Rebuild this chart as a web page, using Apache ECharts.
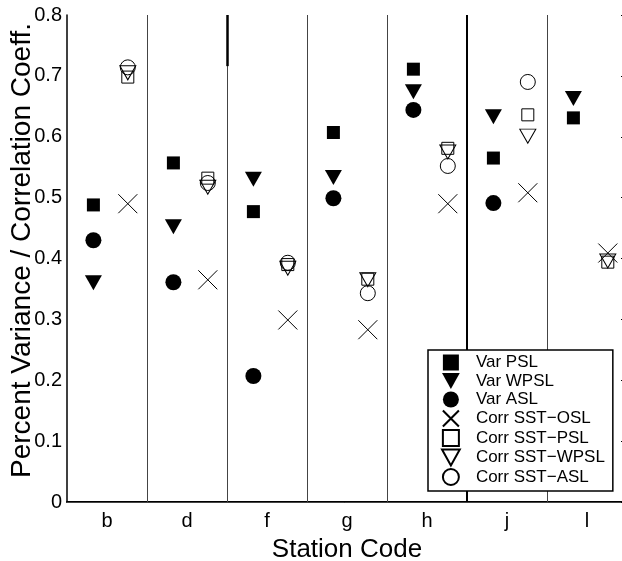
<html>
<head>
<meta charset="utf-8">
<title>Station Code</title>
<script src="https://cdn.jsdelivr.net/npm/echarts@6/dist/echarts.min.js"></script>
<style>
body { margin: 0; background: #fff; }
</style>
</head>
<body>
	<div id="main" style="width: 622px; height: 561px;"></div>
	<script type="text/javascript">
		// stations and the values read per station
		var categories = ['b', 'd', 'f', 'g', 'h', 'j', 'l'];
		var yTicks = [0, 0.1, 0.2, 0.3, 0.4, 0.5, 0.6, 0.7, 0.8];

		var varPSL   = [0.488, 0.557, 0.477, 0.607, 0.711, 0.565, 0.631];
		var varWPSL  = [0.360, 0.452, 0.530, 0.533, 0.674, 0.633, 0.663];
		var varASL   = [0.430, 0.361, 0.207, 0.499, 0.644, 0.491, null];
		var corrOSL  = [0.490, 0.365, 0.299, 0.283, 0.490, 0.508, 0.409];
		var corrPSL  = [0.698, 0.532, 0.390, 0.366, 0.581, 0.636, 0.394];
		var corrWPSL = [0.705, 0.517, 0.384, 0.365, 0.575, 0.601, 0.396];
		var corrASL  = [0.714, 0.524, 0.393, 0.343, 0.552, 0.690, null];

		// lines between stations
		var dividers = [1.5, 2.5, 3.5, 4.5, 5.5, 6.5];

		var FONT = 'Liberation Sans';
		var SQUARE = 'path://M0,0L10,0L10,10L0,10Z';
		var DOWN_TRI = 'path://M0,0L20,0L10,18Z';
		var CROSS = 'path://M0,0L20,20M0,20L20,0';

		function pts(vals, off) {
			var out = [];
			for (var i = 0; i < vals.length; i++) {
				if (vals[i] != null) out.push([i + 1 + off, vals[i]]);
			}
			return out;
		}

		function mk(name, vals, off, symbol, size, filled) {
			return {
				name: name,
				type: 'scatter',
				xAxisIndex: 2,
				yAxisIndex: 0,
				symbol: symbol,
				symbolSize: size,
				symbolKeepAspect: false,
				data: pts(vals, off),
				itemStyle: filled
					? { color: '#000', borderColor: '#000', borderWidth: 0, opacity: 1 }
					: { color: 'rgba(0,0,0,0)', borderColor: '#000', borderWidth: 1, opacity: 1 },
				z: 3
			};
		}

		var series = [
			mk('Var PSL', varPSL, -0.17, SQUARE, 13, true),
			mk('Var WPSL', varWPSL, -0.17, DOWN_TRI, [17, 15], true),
			mk('Var ASL', varASL, -0.17, 'circle', 16, true),
			mk('Corr SST\u2212OSL', corrOSL, 0.26, CROSS, 19, false),
			mk('Corr SST\u2212PSL', corrPSL, 0.26, SQUARE, 12, false),
			mk('Corr SST\u2212WPSL', corrWPSL, 0.26, DOWN_TRI, [16, 14], false),
			mk('Corr SST\u2212ASL', corrASL, 0.26, 'circle', 15, false)
		];

		var lines = [];
		for (var k = 0; k < dividers.length; k++) {
			lines.push({
				xAxis: dividers[k],
				lineStyle: dividers[k] === 5.5 ? { color: '#000', width: 2 } : { color: '#444', width: 1 }
			});
		}
		lines.push([
			{ coord: [2.5, 0.8], lineStyle: { color: '#000', width: 2.5 } },
			{ coord: [2.5, 0.716] }
		]);
		series[0].markLine = {
			silent: true,
			symbol: 'none',
			label: { show: false },
			lineStyle: { type: 'solid' },
			data: lines,
			z: 1
		};

		var myChart = echarts.init(document.getElementById('main'));
		myChart.setOption({
			animation: false,
			backgroundColor: '#fff',
			textStyle: { fontFamily: FONT, color: '#000' },
			grid: { left: 67, top: 15, right: -5, bottom: 59, containLabel: false, outerBoundsMode: 'none' },
			legend: {
				orient: 'vertical',
				left: 428,
				top: 350,
				padding: [4, 8, 5, 13],
				itemWidth: 40,
				itemHeight: 16,
				itemGap: 1.5,
				selectedMode: false,
				backgroundColor: '#fff',
				borderColor: '#000',
				borderWidth: 1.5,
				textStyle: { fontFamily: FONT, fontSize: 17, color: '#000' },
				data: series.map(function (s) { return s.name; })
			},
			xAxis: [
				{
					type: 'category',
					position: 'bottom',
					data: categories,
					name: 'Station Code',
					nameLocation: 'middle',
					nameGap: 35,
					nameMoveOverlap: false,
					nameTextStyle: { fontFamily: FONT, fontSize: 26, color: '#000' },
					axisLine: { lineStyle: { color: '#000', width: 2 } },
					axisTick: { alignWithLabel: true, inside: true, length: 5, interval: 0, lineStyle: { color: '#000' } },
					axisLabel: { fontFamily: FONT, fontSize: 20, color: '#000', margin: 9, interval: 0 },
					splitLine: { show: false }
				},
				{
					type: 'category',
					position: 'top',
					data: categories,
					axisLine: { lineStyle: { color: '#444', width: 1 } },
					axisTick: { alignWithLabel: true, inside: true, length: 5, interval: 0, lineStyle: { color: '#000' } },
					axisLabel: { show: false },
					splitLine: { show: false }
				},
				{
					type: 'value',
					min: 0.5,
					max: 7.5,
					show: false
				}
			],
			yAxis: [
				{
					type: 'value',
					min: 0,
					max: 0.8,
					interval: 0.1,
					name: 'Percent Variance / Correlation Coeff.',
					nameLocation: 'middle',
					nameGap: 31,
					nameMoveOverlap: false,
					nameTextStyle: { fontFamily: FONT, fontSize: 28, color: '#000', padding: [0, 0, 0, 16] },
					axisLine: { show: true, lineStyle: { color: '#000', width: 1.5 } },
					axisTick: { show: false },
					axisLabel: { fontFamily: FONT, fontSize: 20, color: '#000', margin: 5 },
					splitLine: { show: false }
				},
				{
					type: 'value',
					position: 'right',
					min: 0,
					max: 0.8,
					interval: 0.1,
					axisLine: { show: true, lineStyle: { color: '#000', width: 1 } },
					axisTick: { show: true, inside: true, length: 6, lineStyle: { color: '#000' } },
					axisLabel: { show: false },
					splitLine: { show: false }
				}
			],
			series: series
		});
	</script>
</body>
</html>
